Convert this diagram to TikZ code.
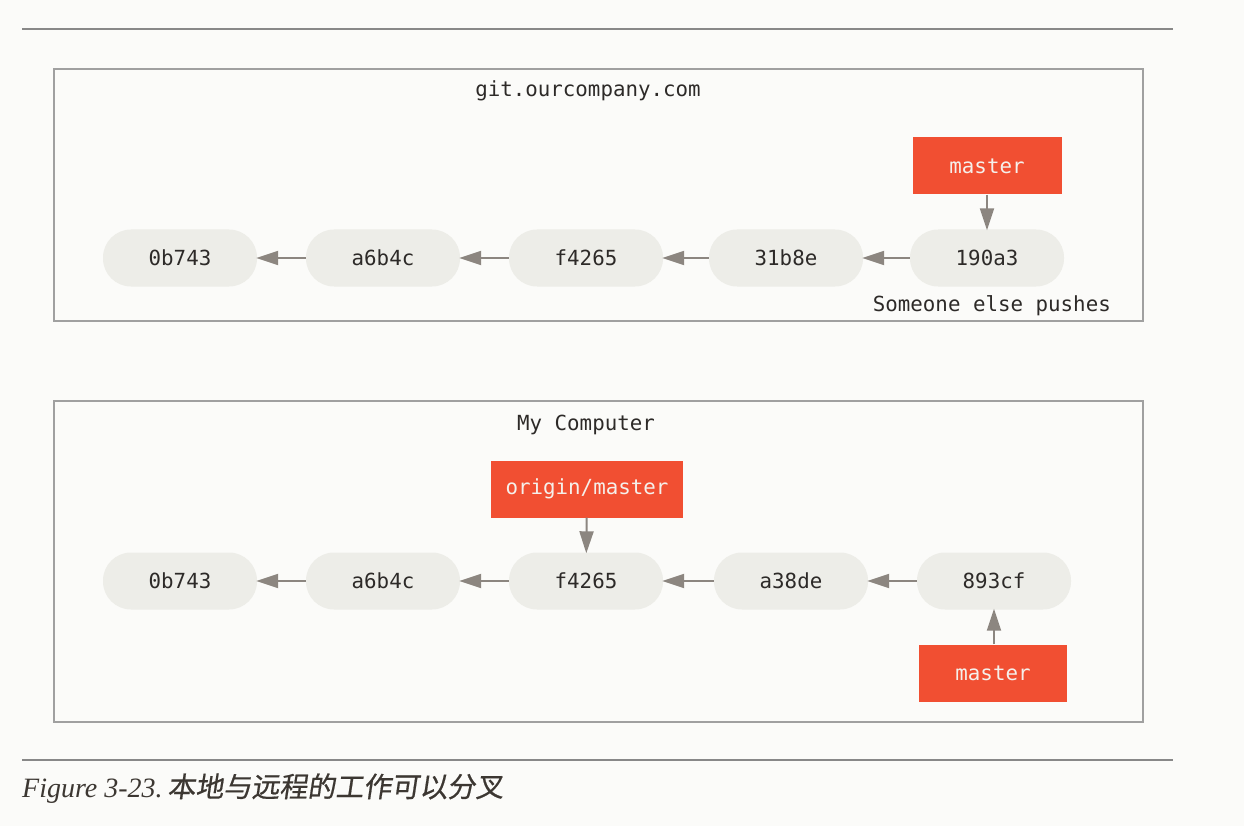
\documentclass[tikz,border=0pt]{standalone}
\usepackage{fontspec}
\setmainfont{Liberation Serif}
\setmonofont{DejaVu Sans Mono}
\newfontfamily\cjkit[FakeSlant=0.15,FakeBold=0.6]{Noto Sans CJK SC}
\usetikzlibrary{arrows.meta}
\definecolor{bg}{RGB}{251,251,249}
\definecolor{rule}{RGB}{136,136,136}
\definecolor{frame}{RGB}{160,160,160}
\definecolor{commitfill}{RGB}{237,237,232}
\definecolor{committext}{RGB}{45,42,40}
\definecolor{branchfill}{RGB}{241,79,50}
\definecolor{branchtext}{RGB}{245,240,235}
\definecolor{arrowc}{RGB}{140,134,128}
\definecolor{captext}{RGB}{60,55,50}
\tikzset{
  commit/.style={draw=none, fill=commitfill, rounded corners=28pt, minimum width=154pt, minimum height=57pt, inner sep=0pt, text=committext, font=\ttfamily\fontsize{20.8pt}{24pt}\selectfont},
  branch/.style={draw=none, fill=branchfill, minimum height=57pt, inner sep=0pt, text=branchtext, font=\ttfamily\fontsize{20.8pt}{24pt}\selectfont},
  ptr/.style={draw=arrowc, line width=2pt, shorten >=-1pt, -{Triangle[length=22pt,width=14pt]}},
  areabox/.style={draw=frame, line width=2pt, fill=none},
  lbl/.style={text=committext, font=\ttfamily\fontsize{20.8pt}{24pt}\selectfont, inner sep=0pt},
}
\begin{document}
\begin{tikzpicture}[x=1pt,y=-1pt]
\fill[bg] (0,0) rectangle (1244,826);
\useasboundingbox (0,0) rectangle (1244,826);
% rules
\draw[rule, line width=2pt] (22,29) -- (1173,29);
\draw[rule, line width=1.5pt] (22,760) -- (1173,760);
% top area
\draw[areabox] (54,69) rectangle (1143,321);
\node[lbl] (t1) at (588,91) {git.ourcompany.com};
\node[commit] (a1) at (180,258) {0b743};
\node[commit] (a2) at (383,258) {a6b4c};
\node[commit] (a3) at (586,258) {f4265};
\node[commit] (a4) at (786,258) {31b8e};
\node[commit] (a5) at (987,258) {190a3};
\node[branch, minimum width=149pt] (m1) at (987,166) {master};
\node[lbl, anchor=east] (s1) at (1111,306) {Someone else pushes};
\draw[ptr] (a2) -- (a1);
\draw[ptr] (a3) -- (a2);
\draw[ptr] (a4) -- (a3);
\draw[ptr] (a5) -- (a4);
\draw[ptr] (m1) -- (a5);
% bottom area
\draw[areabox] (54,401) rectangle (1143,722);
\node[lbl] (t2) at (586,425) {My Computer};
\node[commit] (b1) at (180,581) {0b743};
\node[commit] (b2) at (383,581) {a6b4c};
\node[commit] (b3) at (586,581) {f4265};
\node[commit] (b4) at (791,581) {a38de};
\node[commit] (b5) at (994,581) {893cf};
\node[branch, minimum width=192pt] (om) at (587,489) {origin/master};
\node[branch, minimum width=148pt] (m2) at (993,673) {master};
\draw[ptr] (b2) -- (b1);
\draw[ptr] (b3) -- (b2);
\draw[ptr] (b4) -- (b3);
\draw[ptr] (b5) -- (b4);
\draw[ptr] (om) -- (b3);
\draw[ptr] (m2.north -| b5) -- (b5);
% caption
\node[anchor=base west, inner sep=0pt, text=captext, font=\fontsize{28pt}{32pt}\selectfont] (cap) at (22,797) {\textit{Figure 3-23.}\,{\cjkit 本地与远程的工作可以分叉}};
\end{tikzpicture}
\end{document}
